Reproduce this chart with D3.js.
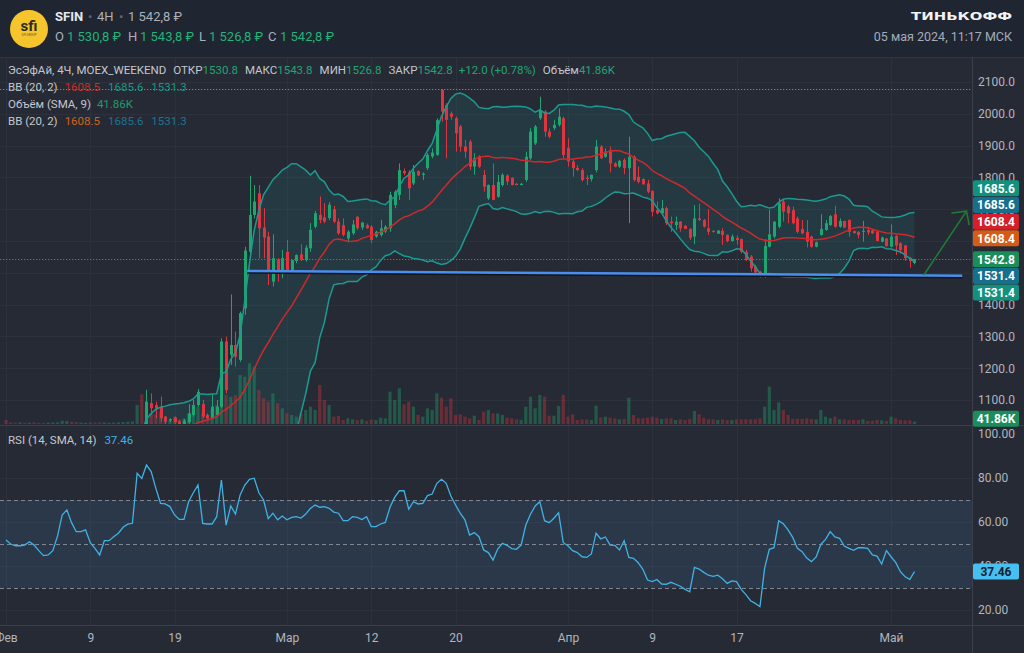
<!DOCTYPE html>
<html>
<head>
<meta charset="utf-8">
<script src="https://cdn.jsdelivr.net/npm/d3@7"></script>
<style>
  body { margin: 0; background: #262a34; }
  svg { display: block; font-family: Roboto, "Noto Sans", sans-serif; }
  text { white-space: pre; }
</style>
</head>
<body>
<svg width="1024" height="653"></svg>
<script>
// ---- data (4H candles, 3 per trading day, 01 Feb .. 03 May 2024) ----
const tickDays = [0, 6, 12, 20, 26, 32, 40, 46, 52, 63];
const tickLabels = ["Фев", "9", "19", "Мар", "12", "20", "Апр", "9", "17", "Май"];
const candlesPerDay = 3;
const priceTicks = [1100, 1200, 1300, 1400, 1500, 1600, 1700, 1800, 1900, 2000, 2100];
const rsiTicks = [20, 40, 60, 80, 100];
const rsiLevels = [70, 50, 30];

const opens = [970,968,966,965,965,964,966,964,961,957, 958,961,968,980,985,978,974,975,976,970,
  966,961,967,968,971,974,978,981,982,1015, 1010,1090,1084,1079,1048,1036,1045,1032,1024,1030,
  1053,1084,1087,1053,1043,1053,1079,1284,1242,1273, 1226,1388,1566,1682,1750,1642,1614,1472,1540,1504,
  1566,1509,1537,1558,1540,1577,1645,1682,1674,1672, 1700,1661,1650,1608,1624,1676,1642,1650,1645,1614,
  1619,1630,1640,1713,1745,1820,1816,1781,1820,1808, 1829,1866,1871,2075,2028,2001,1986,1960,1897,1912,
  1834,1865,1808,1734,1776,1739,1776,1806,1799,1780, 1776,1792,1860,1907,1986,2007,1944,1955,1965,1986,
  1893,1850,1830,1823,1799,1795,1823,1897,1865,1886, 1844,1834,1855,1829,1865,1802,1795,1781,1757,1697,
  1687,1703,1661,1650,1661,1648,1638,1614,1671,1666, 1640,1632,1623,1632,1619,1600,1610,1606,1566,1551,
  1519,1503,1488,1582,1614,1645,1724,1708,1697,1671, 1638,1629,1614,1582,1619,1635,1650,1684,1645,1663,
  1666,1631,1629,1629,1634,1633,1629,1598,1608,1582, 1616,1593,1586,1547,1530.8];
const highs = [974,971,969,968,967,969,968,966,963,961, 964,971,984,989,987,980,978,979,977,972,
  968,969,970,973,976,980,983,985,1022,1020, 1132,1121,1095,1111,1050,1042,1048,1038,1040,1087,
  1100,1135,1100,1058,1116,1100,1294,1299,1432,1315, 1378,1582,1805,1776,1776,1703,1629,1621,1546,1572,
  1603,1540,1558,1590,1587,1656,1694,1740,1719,1722, 1710,1671,1671,1634,1666,1678,1660,1655,1650,1632,
  1666,1650,1755,1760,1844,1828,1823,1839,1822,1816, 1876,1891,1986,2078,2033,2007,1991,1965,1918,1918,
  1876,1870,1823,1778,1844,1808,1813,1810,1800,1782, 1782,1881,1955,1965,2054,2012,1954,1981,2017,1991,
  1923,1855,1839,1829,1807,1809,1918,1902,1891,1897, 1848,1855,1860,1928,1870,1834,1797,1792,1760,1724,
  1729,1708,1677,1677,1663,1650,1640,1713,1718,1669, 1700,1634,1634,1640,1621,1621,1617,1608,1572,1556,
  1525,1506,1606,1698,1662,1734,1729,1713,1708,1677, 1666,1666,1617,1598,1684,1666,1682,1711,1671,1664,
  1668,1633,1631,1663,1645,1636,1631,1614,1609,1652, 1619,1596,1588,1550,1543.8];
const lows = [964,963,962,962,961,962,962,959,954,955, 956,959,966,977,975,971,972,973,968,964,
  958,959,964,966,969,972,976,979,980,1000, 1008,1053,1043,1032,1025,1030,1025,1020,1018,1025,
  1048,1079,1043,1040,1040,1048,1075,1121,1210,1205, 1220,1368,1560,1671,1546,1546,1462,1457,1472,1483,
  1504,1498,1530,1537,1535,1566,1640,1656,1656,1666, 1656,1619,1614,1598,1619,1635,1635,1638,1593,1610,
  1614,1625,1629,1703,1729,1807,1729,1776,1805,1792, 1823,1860,1868,1975,1860,1981,1881,1881,1860,1823,
  1808,1830,1755,1729,1729,1736,1771,1776,1775,1775, 1775,1786,1855,1902,1981,1928,1923,1949,1960,1860,
  1834,1802,1820,1787,1776,1787,1816,1858,1862,1816, 1832,1830,1810,1656,1787,1781,1778,1750,1677,1684,
  1682,1650,1629,1635,1629,1638,1603,1590,1663,1642, 1619,1627,1622,1588,1596,1598,1588,1561,1537,1504,
  1498,1485,1485,1580,1608,1640,1661,1656,1652,1624, 1621,1580,1579,1580,1617,1632,1648,1642,1642,1642,
  1614,1623,1608,1598,1619,1622,1600,1596,1582,1580, 1556,1561,1537,1516,1526.8];
const closes = [968,966,965,965,964,966,964,961,957,958, 961,968,980,985,978,974,975,976,970,966,
  961,967,968,971,974,978,981,982,1015,1005, 1095,1074,1074,1043,1032,1040,1030,1024,1035,1058,
  1084,1126,1048,1043,1079,1079,1284,1131,1273,1236, 1373,1570,1682,1724,1640,1611,1504,1546,1504,1546,
  1509,1540,1556,1540,1579,1635,1687,1666,1661,1714, 1661,1624,1619,1629,1652,1640,1658,1640,1603,1629,
  1640,1645,1745,1755,1823,1813,1766,1818,1806,1812, 1871,1878,1980,2007,1981,1991,1939,1897,1881,1834,
  1860,1834,1771,1776,1729,1786,1808,1787,1776,1776, 1780,1865,1944,1960,2012,1944,1928,1965,1991,1870,
  1850,1829,1823,1792,1795,1808,1897,1860,1881,1844, 1834,1852,1829,1865,1792,1786,1778,1755,1692,1687,
  1703,1656,1656,1661,1640,1638,1610,1671,1666,1645, 1629,1628,1633,1619,1600,1614,1603,1566,1540,1514,
  1501,1488,1584,1621,1661,1718,1692,1687,1656,1629, 1624,1598,1582,1596,1638,1656,1678,1645,1663,1642,
  1629,1625,1619,1632,1627,1624,1600,1611,1584,1614, 1586,1572,1546,1537,1542.8];
// volume, thousands
const volumes = [72,30,25,28,22,25,30,22,20,25, 28,30,60,55,40,35,25,22,30,25,
  28,30,22,25,30,35,40,45,342,534, 282,192,162,222,102,72,132,72,102,192,
  342,312,192,162,252,342,492,522,492,522, 882,852,1092,1032,612,462,402,552,372,282,
  192,162,132,192,252,312,252,702,432,342, 132,144,72,102,84,72,84,54,84,72,
  114,102,582,432,642,354,402,312,162,132, 282,252,552,474,312,462,162,174,132,102,
  150,72,222,252,192,192,162,114,102,84, 72,312,492,282,522,492,150,150,324,522,
  132,174,72,84,84,72,330,114,132,114, 102,84,90,474,162,102,102,114,132,114,
  90,102,102,72,84,72,90,234,174,114, 84,84,72,84,72,72,84,84,84,84,
  84,102,312,672,252,390,252,162,90,90, 90,102,90,84,252,132,102,132,84,84,
  72,72,72,84,54,54,72,66,54,132, 102,72,66,66,41.86];
const rsiValues = [51.8,50.0,49.2,49.2,49.5,51.0,49.5,47.0,44.7,45.0, 47.0,53.6,63.2,65.5,59.7,55.6,55.6,56.4,50.6,48.0,
  45.0,51.5,51.5,53.3,54.9,57.6,59.0,59.4,82.1,79.8, 85.9,82.9,75.3,68.5,68.2,67.0,63.2,61.2,61.2,69.2,
  73.3,76.8,59.4,59.1,59.1,62.4,79.1,58.6,67.3,63.6, 72.3,76.8,79.4,79.9,73.3,70.0,61.5,64.0,61.0,62.7,
  61.0,62.1,62.4,61.8,63.6,66.2,67.7,66.7,67.0,66.2, 64.5,64.0,60.6,60.6,62.4,62.1,61.1,62.4,57.9,57.9,
  59.1,59.8,66.7,71.2,74.2,74.2,65.8,69.2,68.2,68.5, 72.0,72.7,77.6,79.4,77.6,71.8,67.7,64.0,61.0,54.1,
  55.2,53.3,47.3,46.1,42.7,47.7,50.3,49.4,47.9,47.6, 49.5,58.6,63.5,67.3,69.2,60.6,59.7,61.7,64.2,50.6,
  49.2,47.0,46.1,44.2,43.9,45.5,54.9,52.3,53.2,49.5, 49.4,47.3,51.5,43.9,43.5,41.5,38.5,33.6,32.9,33.9,
  31.8,31.7,32.6,31.7,30.8,29.4,28.3,39.4,38.6,37.1, 35.8,35.3,35.8,34.2,32.1,33.2,32.9,29.4,27.0,24.2,
  23.0,21.5,39.0,47.6,48.3,60.5,59.2,56.4,53.0,48.0, 46.5,43.6,42.0,44.1,49.8,52.1,55.6,53.2,52.6,49.1,
  48.0,47.1,48.3,48.3,48.0,45.0,44.5,40.9,47.0,44.2, 41.5,37.4,35.1,33.9,37.46];

// drawn support line and arrow (candle index, price)
const supportLine = [[51.5, 1506], [204.2, 1491]];
const arrowLine = [[196.0, 1493], [205.1, 1694], [202.0, 1688], [205.1, 1694], [205.7, 1650]];

// last values shown on the price scale
const scaleLabelValues = ["1685.6", "1685.6", "1608.4", "1608.4", "1542.8", "1531.4", "1531.4"];
const scaleLabelColors = ["#12917f", "#156f8d", "#d3202b", "#d65b16", "#1a8d5b", "#156f8d", "#12917f"];

// ---- layout ----
const svg = d3.select("svg");
const plotRight = 972, mainTop = 57, mainBottom = 424, rsiTop = 426, rsiBottom = 625;
const green = "#1fa56f", red = "#e0353f";
const textGray = "#b2b5be", gridColor = "#2d313c";

const candles = closes.map((c, i) => ({ i, o: opens[i], h: highs[i], l: lows[i], c, v: volumes[i] }));

const x = d3.scaleLinear().domain([-1.28, 206.28]).range([0, plotRight]);
const yP = d3.scaleLinear().domain([1100, 2100]).range([400, 82]);
const yV = d3.scaleLinear().domain([0, 1800]).range([mainBottom, mainBottom - 100]);
const yR = d3.scaleLinear().domain([20, 100]).range([610, 434]);

// bollinger bands (20, 2)
const bands = closes.map((c, i) => {
  if (i < 19) return null;
  const win = closes.slice(i - 19, i + 1);
  const m = d3.mean(win);
  const sd = Math.sqrt(d3.mean(win, v => (v - m) ** 2));
  return { i, mid: m, up: m + 2 * sd, lo: m - 2 * sd };
}).filter(d => d);

// backgrounds
svg.append("rect").attr("width", 1024).attr("height", 653).attr("fill", "#262a34");
svg.append("rect").attr("width", 1024).attr("height", mainTop).attr("fill", "#1f2531");
svg.append("line").attr("x1", 0).attr("x2", 1024).attr("y1", mainTop + 0.5).attr("y2", mainTop + 0.5)
  .attr("stroke", "#30353f");

const defs = svg.append("defs");
defs.append("clipPath").attr("id", "mainClip").append("rect")
  .attr("x", 0).attr("y", mainTop + 1).attr("width", plotRight).attr("height", mainBottom - mainTop - 1);
defs.append("clipPath").attr("id", "rsiClip").append("rect")
  .attr("x", 0).attr("y", rsiTop).attr("width", plotRight).attr("height", rsiBottom - rsiTop);

// grid
const grid = svg.append("g").attr("stroke", gridColor).attr("stroke-width", 1);
tickDays.forEach(d => {
  const gx = Math.round(x(d * candlesPerDay)) + 0.5;
  grid.append("line").attr("x1", gx).attr("x2", gx).attr("y1", mainTop).attr("y2", rsiBottom);
});
priceTicks.forEach(p => {
  const gy = Math.round(yP(p)) + 0.5;
  grid.append("line").attr("x1", 0).attr("x2", plotRight).attr("y1", gy).attr("y2", gy);
});

// RSI band background
svg.append("rect").attr("x", 0).attr("width", plotRight)
  .attr("y", yR(70)).attr("height", yR(30) - yR(70)).attr("fill", "rgba(70,130,185,0.17)");
rsiTicks.slice(0, 4).forEach(v => {
  const gy = Math.round(yR(v)) + 0.5;
  grid.append("line").attr("x1", 0).attr("x2", plotRight).attr("y1", gy).attr("y2", gy);
});

// ---- main pane ----
const main = svg.append("g").attr("clip-path", "url(#mainClip)");

main.append("path").datum(bands)
  .attr("fill", "rgba(30,150,146,0.14)")
  .attr("d", d3.area().x(d => x(d.i)).y0(d => yP(d.lo)).y1(d => yP(d.up)));

// volume
main.append("g").selectAll("rect").data(candles).join("rect")
  .attr("x", d => x(d.i) - 1.6)
  .attr("width", 3.2)
  .attr("y", d => yV(d.v))
  .attr("height", d => mainBottom - yV(d.v))
  .attr("fill", d => d.c >= d.o ? "rgba(31,165,111,0.38)" : "rgba(224,53,63,0.36)");

// dotted lines: period high and last price
const maxHigh = d3.max(highs);
main.append("line").attr("x1", 0).attr("x2", plotRight)
  .attr("y1", Math.round(yP(maxHigh)) + 0.5).attr("y2", Math.round(yP(maxHigh)) + 0.5)
  .attr("stroke", "#7b808a").attr("stroke-dasharray", "1.3,1.7");
const lastClose = closes[closes.length - 1];
main.append("line").attr("x1", 0).attr("x2", plotRight)
  .attr("y1", Math.round(yP(lastClose)) + 0.5).attr("y2", Math.round(yP(lastClose)) + 0.5)
  .attr("stroke", "#1a9c6a").attr("stroke-dasharray", "1.3,1.7");

// candles
const cg = main.append("g").selectAll("g").data(candles).join("g")
  .attr("fill", d => d.c >= d.o ? green : red)
  .attr("stroke", d => d.c >= d.o ? green : red);
cg.append("line")
  .attr("x1", d => Math.round(x(d.i)) + 0.5).attr("x2", d => Math.round(x(d.i)) + 0.5)
  .attr("y1", d => yP(d.h)).attr("y2", d => yP(d.l));
cg.append("rect")
  .attr("stroke", "none")
  .attr("x", d => Math.round(x(d.i)) - 1)
  .attr("width", 3)
  .attr("y", d => yP(Math.max(d.o, d.c)))
  .attr("height", d => Math.max(1, Math.abs(yP(d.o) - yP(d.c))));

// band lines
const bandLine = key => d3.line().x(d => x(d.i)).y(d => yP(d[key]));
["up", "lo"].forEach(k => main.append("path").datum(bands)
  .attr("fill", "none").attr("stroke", "#1c9a92").attr("stroke-width", 1.5).attr("d", bandLine(k)));
main.append("path").datum(bands)
  .attr("fill", "none").attr("stroke", "#d0292c").attr("stroke-width", 1.5).attr("d", bandLine("mid"));

// drawings
main.append("path")
  .attr("d", d3.line().x(d => x(d[0])).y(d => yP(d[1]) + 1.5)(supportLine))
  .attr("stroke", "#11151c").attr("stroke-width", 2.5).attr("fill", "none");
main.append("path")
  .attr("d", d3.line().x(d => x(d[0])).y(d => yP(d[1]))(supportLine))
  .attr("stroke", "#4a8ff0").attr("stroke-width", 2.5).attr("fill", "none");
main.append("path")
  .attr("d", d3.line().x(d => x(d[0])).y(d => yP(d[1]))(arrowLine))
  .attr("stroke", "#1f7a38").attr("stroke-width", 1.6).attr("fill", "none")
  .attr("stroke-linejoin", "round");

// ---- RSI pane ----
const rsiG = svg.append("g").attr("clip-path", "url(#rsiClip)");
rsiLevels.forEach(v => rsiG.append("line")
  .attr("x1", 0).attr("x2", plotRight)
  .attr("y1", Math.round(yR(v)) + 0.5).attr("y2", Math.round(yR(v)) + 0.5)
  .attr("stroke", "#80858f").attr("stroke-dasharray", "4,3"));
rsiG.append("path").datum(rsiValues)
  .attr("fill", "none").attr("stroke", "#40b2e4").attr("stroke-width", 1.3)
  .attr("d", d3.line().x((d, i) => x(i)).y(d => yR(d)));

// pane separators
const sep = svg.append("g").attr("stroke", "#3a3f4b");
sep.append("line").attr("x1", 0).attr("x2", 1024).attr("y1", 425.5).attr("y2", 425.5);
sep.append("line").attr("x1", 0).attr("x2", 1024).attr("y1", rsiBottom + 0.5).attr("y2", rsiBottom + 0.5);
sep.append("line").attr("x1", plotRight + 0.5).attr("x2", plotRight + 0.5).attr("y1", mainTop).attr("y2", 653);

// ---- axes ----
const styleAxis = g => {
  g.select(".domain").remove();
  g.selectAll("text").attr("fill", textGray).attr("font-size", 12)
    .attr("font-family", "Roboto, 'Noto Sans', sans-serif");
};
svg.append("g").attr("transform", `translate(${plotRight},0)`)
  .call(d3.axisRight(yP).tickValues(priceTicks).tickSize(0).tickPadding(6).tickFormat(d3.format(".1f")))
  .call(styleAxis);
svg.append("g").attr("transform", `translate(${plotRight},0)`)
  .call(d3.axisRight(yR).tickValues(rsiTicks).tickSize(0).tickPadding(6).tickFormat(d3.format(".2f")))
  .call(styleAxis);
svg.append("g").attr("transform", `translate(0,${rsiBottom})`)
  .call(d3.axisBottom(x).tickValues(tickDays.map(d => d * candlesPerDay)).tickSize(0).tickPadding(8)
    .tickFormat((d, k) => tickLabels[k]))
  .call(styleAxis);

// ---- price scale labels (stacked around the last price) ----
const labelH = 16.7, anchor = 4;
const labelY = scaleLabelValues.map(v => yP(+v));
for (let k = anchor + 1; k < labelY.length; k++) labelY[k] = Math.max(labelY[k], labelY[k - 1] + labelH);
for (let k = anchor - 1; k >= 0; k--) labelY[k] = Math.min(labelY[k], labelY[k + 1] - labelH);

function scaleLabel(y, txt, bg, fg) {
  svg.append("rect").attr("x", 973).attr("y", y - 8).attr("width", 46).attr("height", 16)
    .attr("rx", 2).attr("fill", bg);
  svg.append("text").attr("x", 996).attr("y", y).attr("dy", "0.36em").attr("text-anchor", "middle")
    .attr("font-size", 12).attr("font-weight", 700).attr("fill", fg || "#fff").text(txt);
}
scaleLabelValues.forEach((v, k) => scaleLabel(labelY[k], v, scaleLabelColors[k]));
scaleLabel(yV(volumes[volumes.length - 1]) - 3, "41.86K", "#1a8d5b");
scaleLabel(yR(rsiValues[rsiValues.length - 1]), d3.format(".2f")(rsiValues[rsiValues.length - 1]), "#47bff0", "#17202c");

// ---- legends ----
function legend(y, parts) {
  const t = svg.append("text").attr("x", 8).attr("y", y).attr("font-size", 11.5);
  parts.forEach(([s, c, dx]) => t.append("tspan").attr("fill", c).attr("dx", dx || 0).text(s));
  return t;
}
const lg = "#c3c7cf", lv = "#22a477";
legend(74, [["ЭсЭфАй, 4Ч, MOEX_WEEKEND", lg], ["ОТКР", lg, 7], ["1530.8", lv], ["МАКС", lg, 7], ["1543.8", lv],
  ["МИН", lg, 7], ["1526.8", lv], ["ЗАКР", lg, 7], ["1542.8", lv], ["+12.0 (+0.78%)", lv, 6],
  ["Объём", lg, 7], ["41.86K", lv]]);
legend(91, [["BB (20, 2)", lg], ["1608.5", "#c4302b", 7], ["1685.6", "#1d9487", 8], ["1531.3", "#1d9487", 8]]);
legend(108, [["Объём (SMA, 9)", lg], ["41.86K", "#1f9a68", 6]]);
legend(125, [["BB (20, 2)", lg], ["1608.5", "#d3621c", 7], ["1685.6", "#1c7494", 8], ["1531.3", "#1c7494", 8]]);
legend(444, [["RSI (14, SMA, 14)", lg], ["37.46", "#40b2e4", 8]]);

// ---- header ----
svg.append("circle").attr("cx", 29).attr("cy", 29).attr("r", 19).attr("fill", "#f6c52e");
svg.append("text").attr("x", 29).attr("y", 31).attr("text-anchor", "middle")
  .attr("font-size", 15).attr("font-weight", 700).attr("fill", "#2b2a27").text("sfi");
svg.append("text").attr("x", 29).attr("y", 36).attr("text-anchor", "middle")
  .attr("font-size", 3).attr("fill", "#5a4f2a").text("SFI GROUP");

const hg = "#aab1bd", hv = "#22b27a";
svg.append("text").attr("x", 55).attr("y", 21).attr("font-size", 13).attr("font-weight", 700)
  .attr("fill", "#e6e8eb").text("SFIN");
svg.append("text").attr("x", 88).attr("y", 21).attr("font-size", 13).attr("fill", "#5d6573").text("•");
svg.append("text").attr("x", 97).attr("y", 21).attr("font-size", 13).attr("fill", hg).text("4H");
svg.append("text").attr("x", 119).attr("y", 21).attr("font-size", 13).attr("fill", "#5d6573").text("•");
svg.append("text").attr("x", 128).attr("y", 21).attr("font-size", 13).attr("fill", hg).text("1 542,8 ₽");

[["O", 55, "1 530,8 ₽", 67], ["H", 128, "1 543,8 ₽", 140], ["L", 199, "1 526,8 ₽", 209], ["C", 268, "1 542,8 ₽", 280]]
  .forEach(([k, kx, v, vx]) => {
    svg.append("text").attr("x", kx).attr("y", 41).attr("font-size", 13).attr("fill", hg).text(k);
    svg.append("text").attr("x", vx).attr("y", 41).attr("font-size", 13).attr("fill", hv).text(v);
  });

svg.append("text").attr("x", 1012).attr("y", 20).attr("text-anchor", "end")
  .attr("font-family", "'DejaVu Sans', sans-serif").attr("font-size", 11).attr("font-weight", 700)
  .attr("fill", "#f2f3f5").attr("textLength", 101).attr("lengthAdjust", "spacingAndGlyphs").text("ТИНЬКОФФ");
svg.append("text").attr("x", 1012).attr("y", 41).attr("text-anchor", "end")
  .attr("font-size", 12.5).attr("fill", "#a3acbb").text("05 мая 2024, 11:17 МСК");
</script>
</body>
</html>
